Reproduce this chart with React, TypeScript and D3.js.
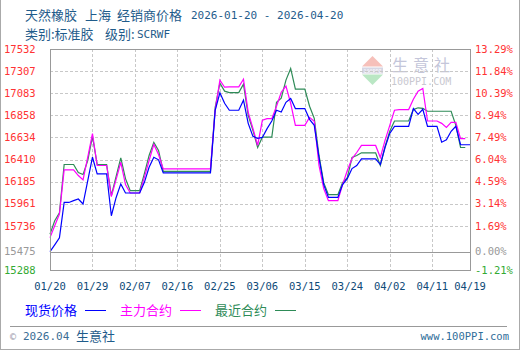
import React from "react";
import * as d3 from "d3";

const startDate = new Date(2026, 0, 20);

const spotPrice = [
  15475, 15543, 15614, 15974, 15974, 15992, 16009, 15958, 16196, 16433,
  16264, 16264, 16264, 15839, 16022, 16162, 16070, 16070, 16070, 16070,
  16178, 16331, 16433, 16407, 16274, 16274, 16274, 16274, 16274, 16274,
  16274, 16274, 16274, 16274, 16274, 16910, 17088, 16981, 16910, 16910,
  16910, 17012, 16777, 16645, 16624, 16634, 16723, 16801, 16910, 16892,
  16991, 17029, 16927, 16927, 16927, 16818, 16757, 16430, 16155, 16025,
  16025, 16025, 16155, 16216, 16318, 16349, 16417, 16417, 16417, 16417,
  16359, 16532, 16675, 16747, 16747, 16747, 16747, 16927, 16869, 16920,
  16747, 16747, 16747, 16586, 16609, 16696, 16747, 16560, 16560, 16560,
];

const mainContract = [
  15617, 15737, 15856, 16305, 16305, 16305, 16247, 16203, 16433, 16672,
  16349, 16349, 16349, 16033, 16206, 16382, 16155, 16070, 16070, 16070,
  16229, 16400, 16563, 16461, 16315, 16315, 16315, 16315, 16315, 16315,
  16315, 16315, 16315, 16315, 16315, 16910, 17216, 17144, 17147, 17147,
  17147, 17226, 16889, 16726, 16553, 16808, 16825, 16825, 16951, 17093,
  17155, 16981, 16757, 16757, 16757, 16838, 16798, 16349, 16114, 15992,
  15992, 15992, 16155, 16298, 16420, 16481, 16553, 16553, 16553, 16553,
  16430, 16604, 16757, 16910, 16917, 16917, 16917, 17022, 17104, 17131,
  16801, 16801, 16801, 16777, 16736, 16787, 16787, 16621, 16621,
];

const nearContract = [
  15652, 15788, 15869, 16359, 16359, 16359, 16277, 16257, 16400, 16645,
  16359, 16359, 16359, 16043, 16237, 16427, 16216, 16094, 16094, 16094,
  16267, 16451, 16583, 16502, 16290, 16290, 16290, 16290, 16290, 16290,
  16290, 16290, 16290, 16290, 16290, 16940, 17185, 17104, 17090, 17090,
  17090, 17175, 16859, 16706, 16532, 16637, 16637, 16637, 16991, 17032,
  17216, 17335, 17124, 17124, 17124, 16951, 16828, 16451, 16175, 16053,
  16053, 16053, 16175, 16226, 16430, 16451, 16478, 16478, 16478, 16478,
  16349, 16543, 16696, 16801, 16801, 16801, 16801, 16917, 16935, 16930,
  16900, 16900, 16900, 16900, 16900, 16900, 16757, 16532, 16532,
];

const yTicks = [17532, 17307, 17083, 16858, 16634, 16410, 16185, 15961, 15736, 15475, 15288];
const pctLabels = ["13.29%", "11.84%", "10.39%", "8.94%", "7.49%", "6.04%", "4.59%", "3.14%", "1.69%", "0.00%", "-1.21%"];
const xTickLabels = ["01/20", "01/29", "02/07", "02/16", "02/25", "03/06", "03/15", "03/24", "04/02", "04/11", "04/19"];
const baseValue = 15475;

const seriesNames = ["现货价格", "主力合约", "最近合约"];
const seriesColors = ["#0000ff", "#ff00ff", "#2e8b57"];

const L = 50, R = 470, T = 49, B = 270;
const MONO = "'DejaVu Sans Mono', 'Liberation Mono', monospace";
const CJK = "'Noto Sans CJK SC', sans-serif";
const titleColor = "#1f5c8b";

function labelDate(s: string) {
  const [m, d] = s.split("/").map(Number);
  return new Date(2026, m - 1, d);
}

export default function App() {
  const x = d3.scaleTime().domain([startDate, labelDate("04/19")]).range([L, R]);
  const y = d3.scaleLinear().domain([15288, 17532]).range([B, T]);
  const dateOf = (i: number) => d3.timeDay.offset(startDate, i);
  const line = d3
    .line<number>()
    .x((_, i) => x(dateOf(i)))
    .y((v) => y(v));

  const series = [spotPrice, mainContract, nearContract];
  const drawOrder = [2, 1, 0];

  const tickColor = (v: number) => (v === baseValue ? "#999999" : v < baseValue ? "#33aa33" : "#ff3333");

  return (
    <div style={{ position: "absolute", left: 0, top: 0 }}>
      <svg width={520} height={350} style={{ display: "block", background: "#fff" }}>
        <rect x={0} y={0} width={520} height={350} fill="#fff" />
        <line x1={0.5} y1={0} x2={0.5} y2={350} stroke="#aaa" />
        <line x1={519.5} y1={0} x2={519.5} y2={350} stroke="#aaa" />
        <line x1={0} y1={349.5} x2={520} y2={349.5} stroke="#aaa" />

        {/* title */}
        <text x={25} y={20} fill={titleColor} fontFamily={CJK} fontSize={13}>天然橡胶</text>
        <text x={85} y={20} fill={titleColor} fontFamily={CJK} fontSize={13}>上海</text>
        <text x={117} y={20} fill={titleColor} fontFamily={CJK} fontSize={13}>经销商价格</text>
        <text x={191} y={19} fill={titleColor} fontFamily={MONO} fontSize={11}>2026-01-20 - 2026-04-20</text>
        <text x={25} y={39} fill={titleColor} fontFamily={CJK} fontSize={13}>类别:标准胶</text>
        <text x={105} y={39} fill={titleColor} fontFamily={CJK} fontSize={13}>级别:</text>
        <text x={137} y={38} fill={titleColor} fontFamily={MONO} fontSize={11}>SCRWF</text>

        {/* watermark */}
        <g opacity={0.35}>
          <path d="M372.5,56 L383,66.5 L362,66.5 Z" fill="#e84c3d" />
          <rect x={362} y={67.5} width={21} height={6} fill="#8c8cb4" />
          <text x={372.5} y={72.6} textAnchor="middle" fontSize={5} fill="#fff" fontFamily={MONO}>100PPI</text>
          <path d="M362,74.5 L383,74.5 L372.5,85 Z" fill="#3dbb5a" />
        </g>
        <text x={392} y={71} fill="#c4c6da" fontFamily={CJK} fontSize={16} letterSpacing={5}>生意社</text>
        <text x={391} y={85} fill="#c8c8d0" fontFamily={MONO} fontSize={10}>100PPI.COM</text>

        {/* grid */}
        {yTicks.slice(1, -1).map((v) => (
          <line
            key={"h" + v}
            x1={L}
            x2={R}
            y1={Math.round(y(v)) + 0.5}
            y2={Math.round(y(v)) + 0.5}
            stroke={v === baseValue ? "#999" : "#c8c8c8"}
            strokeDasharray={v === baseValue ? undefined : "3,2"}
          />
        ))}
        {xTickLabels.slice(1, -1).map((s) => (
          <line
            key={"v" + s}
            x1={Math.round(x(labelDate(s))) + 0.5}
            x2={Math.round(x(labelDate(s))) + 0.5}
            y1={T}
            y2={B}
            stroke="#c8c8c8"
            strokeDasharray="3,2"
          />
        ))}

        {/* series */}
        {drawOrder.map((k) => (
          <path key={k} d={line(series[k]) || ""} fill="none" stroke={seriesColors[k]} strokeWidth={1.2} />
        ))}

        <rect x={L + 0.5} y={T + 0.5} width={R - L} height={B - T} fill="none" stroke="#999" />

        {/* y labels */}
        {yTicks.map((v, i) => (
          <g key={"yl" + v}>
            <text x={4} y={y(v)} dy="0.35em" fill={tickColor(v)} fontFamily={MONO} fontSize={10.5}>
              {v}
            </text>
            <text x={475} y={y(v)} dy="0.35em" fill={tickColor(v)} fontFamily={MONO} fontSize={10.5}>
              {pctLabels[i]}
            </text>
          </g>
        ))}

        {/* x labels */}
        {xTickLabels.map((s) => (
          <text key={"xl" + s} x={x(labelDate(s))} y={290} textAnchor="middle" fill="#0e4a78" fontFamily={MONO} fontSize={10.5}>
            {s}
          </text>
        ))}

        {/* legend */}
        {seriesNames.map((n, i) => (
          <g key={n}>
            <text x={25 + i * 95} y={315} fill={seriesColors[i]} fontFamily={CJK} fontSize={13}>
              {n}
            </text>
            <line x1={85 + i * 95} x2={106 + i * 95} y1={310.5} y2={310.5} stroke={seriesColors[i]} />
          </g>
        ))}

        <line x1={10} x2={507} y1={326.5} y2={326.5} stroke="#999" />
        <text x={10} y={340} fill="#99a" fontFamily={MONO} fontSize={10}>©</text>
        <text x={23} y={340} fill="#3a6d94" fontFamily={MONO} fontSize={11}>2026.04</text>
        <text x={76} y={341} fill="#1f5c8b" fontFamily={CJK} fontSize={13}>生意社</text>
        <text x={509} y={340} textAnchor="end" fill="#2f6e9a" fontFamily={MONO} fontSize={10.5}>www.100PPI.com</text>
      </svg>
    </div>
  );
}
